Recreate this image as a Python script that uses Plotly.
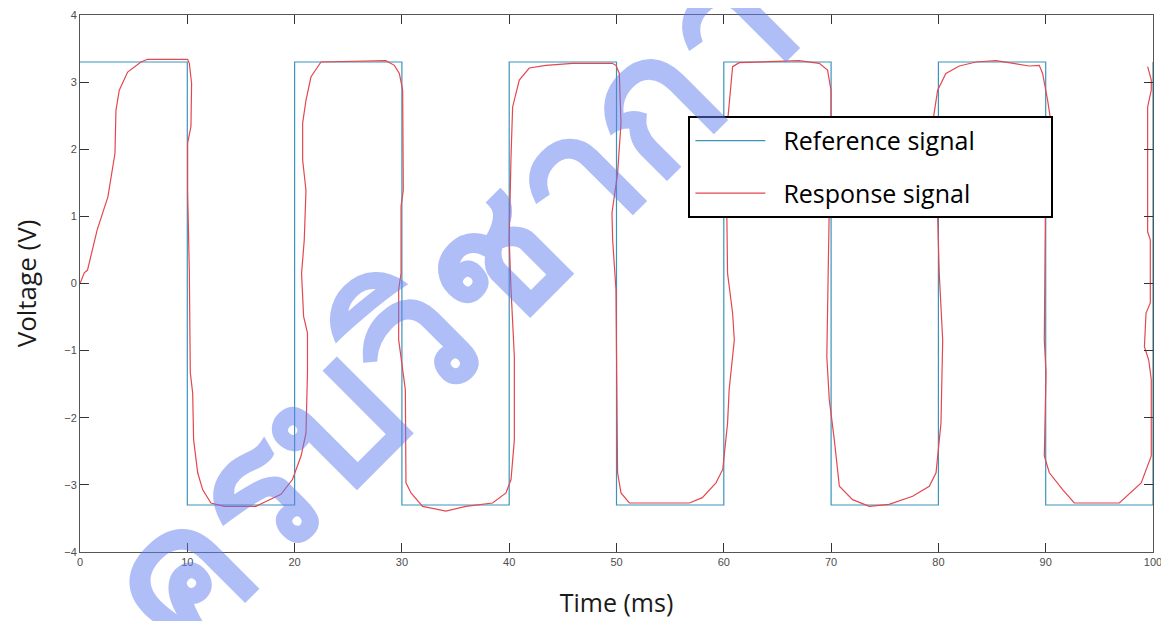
import plotly.graph_objects as go

# Reference square wave (step edges)
ref_time = [0, 10, 20, 30, 40, 50, 60, 70, 80, 90, 100]
ref_volt = [3.3, -3.3, 3.3, -3.3, 3.3, -3.3, 3.3, -3.3, 3.3, -3.3, 3.3]

resp_time = [0.0, 0.4, 0.7, 1.6, 2.6, 2.95, 3.26, 3.35, 3.66, 4.44, 5.68, 6.3, 10.03,
             10.19, 10.4, 10.34, 10.03, 10.03, 10.19, 10.28, 10.5, 10.59, 10.97, 11.43,
             12.2, 13.45, 16.4, 17.18, 18.73, 19.8, 20.6, 21.06, 21.2, 21.2, 20.84, 20.65,
             20.9, 21.06, 20.75, 20.75, 21.06, 21.53, 22.46, 28.5, 29.3, 29.76, 30.07,
             30.13, 29.92, 29.92, 29.7, 29.7, 30.07, 30.32, 30.38, 30.85, 31.93, 34.1,
             35.97, 38.45, 39.7, 40.17, 40.48, 40.48, 40.17, 40.0, 40.17, 40.32, 40.94,
             41.87, 43.43, 45.9, 49.6, 49.95, 50.26, 50.42, 50.1, 49.58, 49.64, 49.95,
             50.1, 50.42, 51.2, 56.8, 58.0, 59.27, 59.9, 60.35, 60.5, 60.98, 60.82, 60.35,
             60.2, 60.5, 60.82, 61.44, 67.0, 68.9, 69.67, 69.99, 69.99, 69.67, 69.83, 69.6,
             69.83, 70.3, 70.77, 72.0, 73.56, 75.4, 77.6, 79.15, 79.78, 80.24, 80.4, 80.08,
             79.93, 79.2, 79.46, 79.93, 80.7, 81.95, 83.5, 85.37, 86.92, 88.47, 89.4, 89.71,
             90.18, 90.5, 90.03, 89.87, 90.03, 89.87, 90.34, 91.58, 92.67, 96.86, 98.9,
             99.84, 99.84, 99.6, 99.2, 99.35, 99.75, 99.75, 99.5, 99.5, 99.84, 99.84, 99.5]
resp_volt = [0.0, 0.16, 0.2, 0.8, 1.29, 1.64, 1.94, 2.58, 2.88, 3.15, 3.30, 3.34, 3.34,
             3.28, 2.98, 2.34, 2.09, 1.39, 0.16, -1.33, -1.63, -2.33, -2.82, -3.07,
             -3.27, -3.32, -3.32, -3.26, -3.14, -2.92, -2.57, -2.23, -1.33, -0.74, -0.49, 0.15,
             0.65, 1.39, 1.84, 2.39, 2.73, 3.08, 3.30, 3.32, 3.25, 3.13, 2.88,
             1.39, 1.15, 0.15, -0.09, -0.84, -1.24, -1.58, -2.97, -3.12, -3.32, -3.39,
             -3.32, -3.27, -3.12, -2.92, -2.33, -1.09, -0.09, 0.65, 1.89, 2.63, 3.03,
             3.21, 3.25, 3.28, 3.28, 3.25, 3.13, 2.39, 1.64, 1.05, 0.65, -0.09,
             -2.82, -3.12, -3.27, -3.27, -3.19, -2.97, -2.77, -2.08, -1.58, -0.84, -0.44, 0.15,
             2.14, 2.63, 3.23, 3.29, 3.32, 3.28, 3.18, 2.88, 2.04, 1.74, 1.15, -1.09,
             -1.73, -2.33, -3.02, -3.22, -3.32, -3.29, -3.17, -3.02, -2.82, -2.08, -0.84, 0.15,
             1.0, 1.64, 2.39, 2.88, 3.13, 3.24, 3.30, 3.32, 3.28, 3.24, 3.25, 3.13,
             2.73, 2.39, 2.14, -0.84, -1.33, -2.57, -2.82, -3.07, -3.27, -3.27, -2.97,
             -2.57, -1.43, -1.14, -0.94, -0.44, -0.29, 0.65, 0.77, 2.63, 2.88, 3.03, 3.23]

x_ticks = [0, 10, 20, 30, 40, 50, 60, 70, 80, 90, 100]
y_ticks = [-4, -3, -2, -1, 0, 1, 2, 3, 4]

NB = "\u00a0"

fig = go.Figure()
fig.add_trace(go.Scatter(x=ref_time, y=ref_volt, mode="lines", line_shape="hv",
                         name=NB * 2 + "Reference signal" + NB * 11, legendgroup="a",
                         line=dict(color="#3b95bb", width=1.2)))
fig.add_trace(go.Scatter(x=resp_time, y=resp_volt, mode="lines",
                         name=NB * 2 + "Response signal", legendgroup="b",
                         line=dict(color="#e4474f", width=1.2)))

axis_common = dict(showline=True, linecolor="#555555", linewidth=1, mirror="ticks",
                   ticks="inside", ticklen=9, tickcolor="#333333", showgrid=False,
                   zeroline=False, automargin=False,
                   tickfont=dict(family="Liberation Sans", size=11, color="#4d4d4d"))

fig.update_xaxes(range=[0, 100], tickvals=x_ticks, **axis_common,
                 title=dict(text="Time (ms)", standoff=27,
                            font=dict(family="Open Sans", size=25, color="#1a1a1a")))
fig.update_yaxes(range=[-4, 4], tickvals=y_ticks, **axis_common,
                 title=dict(text="Voltage (V)", standoff=24,
                            font=dict(family="Open Sans", size=26, color="#1a1a1a")))

fig.update_layout(
    width=1169, height=621,
    margin=dict(l=72, r=24, t=7, b=77),
    paper_bgcolor="white", plot_bgcolor="white",
    legend=dict(x=0.567, y=0.812, xanchor="left", yanchor="top",
                bordercolor="black", borderwidth=2, bgcolor="white",
                font=dict(family="Open Sans", size=25, color="black"),
                itemwidth=70, tracegroupgap=17, traceorder="grouped"),
    annotations=[dict(text="ครบวิชาการ", xref="paper", yref="paper",
                      x=0.37, y=0.535, showarrow=False, textangle=-45,
                      font=dict(size=185, color="rgba(95,125,240,0.5)", family="Noto Sans",
                                weight="bold"))],
)

fig.write_html("out.html")
